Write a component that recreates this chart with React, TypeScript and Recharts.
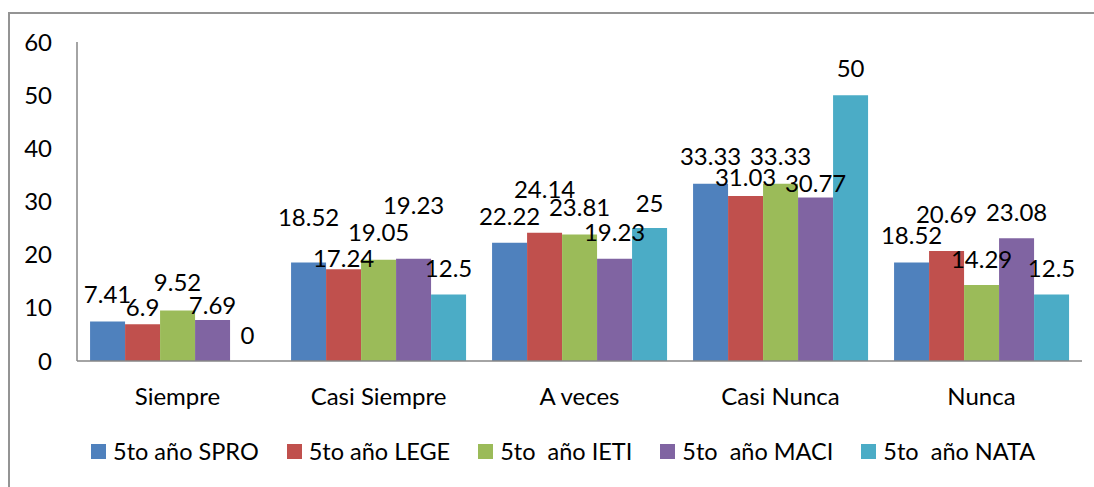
import React from "react";
import { BarChart, Bar, XAxis, YAxis, LabelList } from "recharts";

const categories = ["Siempre", "Casi Siempre", "A veces", "Casi Nunca", "Nunca"];
const spro = [7.41, 18.52, 22.22, 33.33, 18.52];
const lege = [6.9, 17.24, 24.14, 31.03, 20.69];
const ieti = [9.52, 19.05, 23.81, 33.33, 14.29];
const maci = [7.69, 19.23, 19.23, 30.77, 23.08];
const nata = [0, 12.5, 25, 50, 12.5];
const yTicks = [0, 10, 20, 30, 40, 50, 60];

const seriesNames = ["5to año SPRO", "5to año LEGE", "5to  año IETI", "5to  año MACI", "5to  año NATA"];
const seriesKeys = ["spro", "lege", "ieti", "maci", "nata"];
const colors = ["#4F81BD", "#C0504D", "#9BBB59", "#8064A2", "#4BACC6"];

// style: how far (px) each value label's centre sits above its bar top, as staggered in the original
const labelLift = [
  [27, 45, 27, 27, 27],
  [17, 11, 43, 19, 37],
  [28, 27, 27, 27, 26],
  [15, 53, 26, 14, 26],
  [26, 26, 25, 27, 26],
];

const data = categories.map((c, i) => ({
  name: c,
  spro: spro[i],
  lege: lege[i],
  ieti: ieti[i],
  maci: maci[i],
  nata: nata[i],
}));

const FONT = "Lato, 'Open Sans', sans-serif";
const FS = 24;

const makeLabel = (s: number) => (props: any) => {
  const { x, y, width, height, value, index } = props;
  const top = Math.min(Number(y), Number(y) + Number(height || 0));
  const lift = labelLift[s][index] ?? 26;
  return (
    <text
      x={Number(x) + Number(width) / 2}
      y={top - lift}
      dy="0.36em"
      textAnchor="middle"
      fill="#000"
      fontSize={FS}
      fontFamily={FONT}
    >
      {String(value)}
    </text>
  );
};

const tinyForZero = (value: any) => (Number(value) === 0 ? 0.01 : 0);

export default function App() {
  return (
    <div style={{ position: "fixed", left: 0, top: 0, width: 1094, height: 487, overflow: "hidden", background: "#fff", fontFamily: FONT }}>
      <div style={{ position: "absolute", left: 8, top: 12, width: 1200, height: 600, border: "2px solid #949494", boxSizing: "border-box" }} />
      <div style={{ position: "absolute", left: 0, top: 0 }}>
        <BarChart
          width={1094}
          height={487}
          data={data}
          margin={{ top: 42, right: 12, bottom: 96, left: 0 }}
          barCategoryGap="6.5%"
          barGap={0}
        >
          <XAxis
            dataKey="name"
            height={30}
            axisLine={{ stroke: "#868686", strokeWidth: 1.5 }}
            tickLine={false}
            tickSize={0}
            tickMargin={27}
            tick={{ fill: "#000", fontSize: FS, fontFamily: FONT }}
            interval={0}
          />
          <YAxis
            width={77}
            domain={[0, 60]}
            ticks={yTicks}
            axisLine={{ stroke: "#868686", strokeWidth: 1.5 }}
            tickLine={false}
            tickSize={0}
            tickMargin={25}
            tick={{ fill: "#000", fontSize: FS, fontFamily: FONT }}
            interval={0}
          />
          {seriesKeys.map((k, i) => (
            <Bar key={k} dataKey={k} name={seriesNames[i]} fill={colors[i]} minPointSize={tinyForZero} isAnimationActive={false}>
              <LabelList dataKey={k} content={makeLabel(i)} />
            </Bar>
          ))}
        </BarChart>
      </div>
      <div style={{ position: "absolute", left: 91, top: 440, display: "flex", alignItems: "center", gap: 28, lineHeight: "23px", fontSize: 23.5, whiteSpace: "pre", color: "#000" }}>
        {seriesNames.map((n, i) => (
          <div key={n} style={{ display: "flex", alignItems: "center" }}>
            <div style={{ width: 15, height: 15, background: colors[i], marginRight: 7 }} />
            <span>{n}</span>
          </div>
        ))}
      </div>
    </div>
  );
}
